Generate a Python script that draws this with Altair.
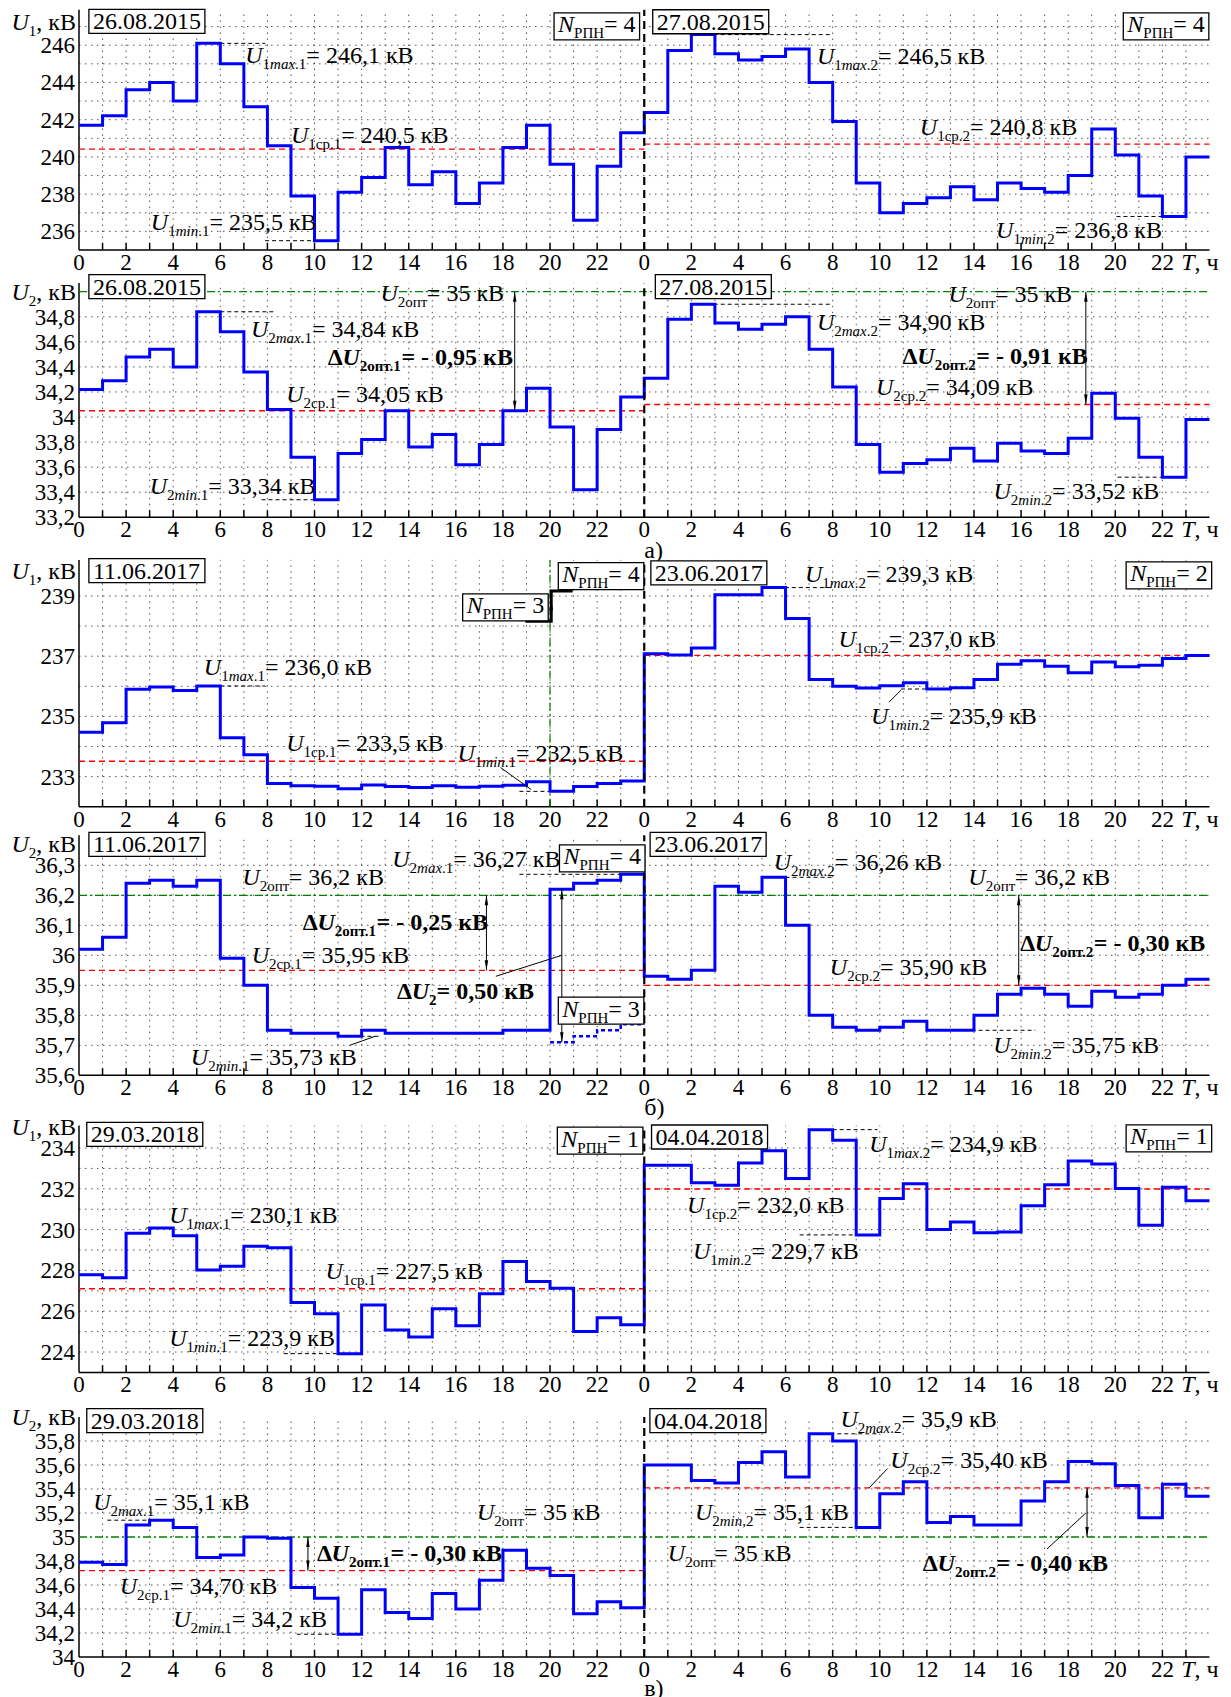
import altair as alt
import pandas as pd

FONT = "Liberation Serif"

# ====================== DATA ======================
# hourly step values: value i holds from hour i to hour i+1
U1_2015_D1 = [241.70, 242.21, 243.61, 244.00, 243.00, 246.10, 245.00, 242.70,
              240.60, 237.90, 235.50, 238.10, 238.90, 240.50, 238.50, 239.20,
              237.50, 238.60, 240.50, 241.70, 239.60, 236.60, 239.50, 241.30]
U1_2015_D2 = [242.39, 245.72, 246.57, 245.54, 245.20, 245.40, 245.80, 244.00,
              241.90, 238.60, 237.00, 237.50, 237.80, 238.40, 237.70, 238.60,
              238.30, 238.10, 239.00, 241.50, 240.10, 237.90, 236.80, 240.00]
U1_2015_MEAN = [240.42, 240.69]

U2_2015_D1 = [34.22, 34.29, 34.48, 34.54, 34.40, 34.84, 34.68, 34.36,
              34.06, 33.68, 33.34, 33.71, 33.82, 34.05, 33.76, 33.86,
              33.62, 33.78, 34.05, 34.23, 33.92, 33.42, 33.90, 34.16]
U2_2015_D2 = [34.31, 34.78, 34.90, 34.75, 34.70, 34.74, 34.80, 34.54,
              34.24, 33.78, 33.56, 33.63, 33.66, 33.75, 33.65, 33.79,
              33.73, 33.71, 33.83, 34.19, 33.99, 33.68, 33.52, 33.98]
U2_2015_MEAN = [34.05, 34.10]
U2_2015_OPT = 35.0

U1_2017_D1 = [234.47, 234.79, 235.90, 235.98, 235.86, 236.01, 234.29, 233.73,
              232.77, 232.70, 232.68, 232.60, 232.72, 232.67, 232.64, 232.70,
              232.65, 232.68, 232.71, 232.83, 232.51, 232.67, 232.77, 232.85]
U1_2017_D2 = [237.08, 237.04, 237.27, 239.04, 239.04, 239.28, 238.25, 236.23,
              236.00, 235.94, 236.02, 236.12, 235.91, 235.95, 236.23, 236.73,
              236.85, 236.67, 236.45, 236.81, 236.65, 236.70, 236.92, 237.02]
U1_2017_MEAN = [233.51, 237.03]

U2_2017_D1 = [36.02, 36.06, 36.24, 36.25, 36.23, 36.25, 35.99, 35.90,
              35.75, 35.74, 35.74, 35.73, 35.75, 35.74, 35.74, 35.74,
              35.74, 35.74, 35.75, 35.75, 36.22, 36.24, 36.25, 36.27]
U2_2017_D1_N3_HOURS = [20, 21, 22, 23]
U2_2017_D1_N3 = [35.71, 35.73, 35.75, 35.77]
U2_2017_D2 = [35.93, 35.92, 35.95, 36.23, 36.21, 36.26, 36.10, 35.80,
              35.76, 35.75, 35.76, 35.78, 35.75, 35.75, 35.80, 35.87,
              35.89, 35.87, 35.83, 35.88, 35.86, 35.87, 35.90, 35.92]
U2_2017_MEAN = [35.95, 35.90]
U2_2017_OPT = 36.2

U1_2018_D1 = [227.79, 227.64, 229.82, 230.08, 229.70, 228.02, 228.20, 229.18,
              229.11, 226.43, 225.88, 223.92, 226.30, 225.08, 224.74, 226.12,
              225.29, 226.86, 228.44, 227.46, 227.12, 225.01, 225.68, 225.34]
U1_2018_D2 = [233.15, 233.15, 232.30, 232.17, 233.26, 233.87, 232.50, 234.90,
              234.38, 229.74, 231.53, 232.25, 230.01, 230.37, 229.85, 229.88,
              231.17, 232.20, 233.36, 233.22, 232.01, 230.21, 232.07, 231.42]
U1_2018_MEAN = [227.10, 231.99]

U2_2018_D1 = [34.79, 34.77, 35.10, 35.14, 35.08, 34.83, 34.85, 35.00,
              34.99, 34.58, 34.49, 34.19, 34.56, 34.37, 34.32, 34.53,
              34.40, 34.64, 34.89, 34.74, 34.68, 34.36, 34.46, 34.41]
U2_2018_D2 = [35.60, 35.60, 35.47, 35.45, 35.62, 35.71, 35.50, 35.86,
              35.80, 35.08, 35.36, 35.46, 35.12, 35.17, 35.10, 35.10,
              35.30, 35.46, 35.63, 35.61, 35.43, 35.16, 35.44, 35.34]
U2_2018_MEAN = [34.72, 35.41]
U2_2018_OPT = 35.0

# ticks / grid
X_LABEL_HOURS = list(range(0, 48, 2))
GRID_HOURS = [h for h in range(1, 48) if h != 24]
TICK_HOURS = list(range(1, 48))

TICKS_R1 = [236, 238, 240, 242, 244, 246]
TICKS_R2 = [33.2, 33.4, 33.6, 33.8, 34.0, 34.2, 34.4, 34.6, 34.8]
TICKS_R3 = [233, 235, 237, 239]
TICKS_R4 = [35.6, 35.7, 35.8, 35.9, 36.0, 36.1, 36.2, 36.3]
TICKS_R5 = [224, 226, 228, 230, 232, 234]
TICKS_R6 = [34.0, 34.2, 34.4, 34.6, 34.8, 35.0, 35.2, 35.4, 35.6, 35.8]
GRID_R1 = [236, 237, 238, 239, 240, 241, 242, 243, 244, 245, 246, 247]
GRID_R2 = [33.4, 33.6, 33.8, 34.0, 34.2, 34.4, 34.6, 34.8]
GRID_R3 = [233, 234, 235, 236, 237, 238, 239]
GRID_R4 = [35.7, 35.8, 35.9, 36.0, 36.1, 36.2, 36.3]
GRID_R5 = [224, 225, 226, 227, 228, 229, 230, 231, 232, 233, 234]
GRID_R6 = [34.2, 34.4, 34.6, 34.8, 35.2, 35.4, 35.6, 35.8]


# ---------------- annotation texts ----------------
def m_max(i, k, val):
    return f"i:U|s:{i}|si:max|s:{k}|n:= {val} кВ"


def m_min(i, k, val):
    return f"i:U|s:{i}|si:min|s:{k}|n:= {val} кВ"


def m_avg(i, k, val):
    return f"i:U|s:{i}ср{k}|n:= {val} кВ"


def m_opt(val):
    return f"i:U|s:2опт|n:= {val} кВ"


def m_dopt(k, val):
    return f"b:Δ|bi:U|bs:2опт{k}|b:= - {val} кВ"


def m_n(n):
    return f"i:N|s:РПН|n:= {n}"


R1_LABELS = [(7.06, 245.5, m_max("1", ".1", "246,1")),
             (9.0, 241.2, m_avg("1", ".1", "240,5")),
             (3.05, 236.5, m_min("1", ".1", "235,5")),
             (31.33, 245.4, m_max("1", ".2", "246,5")),
             (35.7, 241.6, m_avg("1", ".2", "240,8")),
             (38.94, 236.1, m_min("1", ".2", "236,8"))]
R1_BOXES = [(0.42, 247.28, "n:26.08.2015"), (20.17, 247.12, m_n(4)),
            (24.36, 247.26, "n:27.08.2015"), (44.34, 247.12, m_n(4))]
R1_MARKERS = [(6.0, 7.9, 246.1), (7.9, 10.0, 235.5), (26.95, 31.97, 246.57), (44.05, 46.1, 236.8)]

R2_LABELS = [(12.8, 34.99, m_opt("35")),
             (7.3, 34.70, m_max("2", ".1", "34,84")),
             (10.56, 34.48, m_dopt(".1", "0,95")),
             (8.8, 34.18, m_avg("2", ".1", "34,05")),
             (3.0, 33.45, m_min("2", ".1", "33,34")),
             (36.92, 34.98, m_opt("35")),
             (31.33, 34.76, m_max("2", ".2", "34,90")),
             (34.97, 34.49, m_dopt(".2", "0,91")),
             (33.84, 34.24, m_avg("2", ".2", "34,09")),
             (38.83, 33.41, m_min("2", ".2", "33,52"))]
R2_BOXES = [(0.42, 35.04, "n:26.08.2015"), (24.47, 35.04, "n:27.08.2015")]
R2_MARKERS = [(6.0, 8.3, 34.84), (7.75, 10.5, 33.34), (26.95, 32.0, 34.90), (44.1, 46.1, 33.52)]
R2_ARROWS = [(18.5, 35.0, 34.05), (42.75, 35.0, 34.10)]

R3_LABELS = [(5.3, 236.64, m_max("1", ".1", "236,0")),
             (8.8, 234.1, m_avg("1", ".1", "233,5")),
             (16.07, 233.8, m_min("1", ".1", "232,5")),
             (30.82, 239.72, m_max("1", ".2", "239,3")),
             (32.25, 237.58, m_avg("1", ".2", "237,0")),
             (33.63, 235.01, m_min("1", ".2", "235,9"))]
R3_BOXES = [(0.42, 239.84, "n:11.06.2017"), (20.35, 239.73, m_n(4)), (16.29, 238.69, m_n(3)),
            (24.28, 239.77, "n:23.06.2017"), (44.46, 239.75, m_n(2))]
R3_MARKERS = [(6.0, 7.9, 236.01), (18.7, 20.0, 232.51), (29.97, 32.0, 239.28), (34.9, 36.3, 235.91)]
R3_LEADERS = [(17.9, 233.3, 19.2, 232.57), (34.4, 235.48, 34.9, 235.87)]
R3_STEP_X = [18.95, 20.05, 20.05, 20.96]
R3_STEP_Y = [238.16, 238.16, 239.17, 239.17]

R4_LABELS = [(6.94, 36.26, m_opt("36,2")),
             (13.3, 36.32, m_max("2", ".1", "36,27")),
             (9.5, 36.11, m_dopt(".1", "0,25")),
             (7.33, 36.0, m_avg("2", ".1", "35,95")),
             (13.5, 35.88, "b:Δ|bi:U|bs:2|b:= 0,50 кВ"),
             (4.75, 35.66, m_min("2", ".1", "35,73")),
             (29.5, 36.31, m_max("2", ".2", "36,26")),
             (37.76, 36.26, m_opt("36,2")),
             (39.96, 36.04, m_dopt(".2", "0,30")),
             (31.88, 35.96, m_avg("2", ".2", "35,90")),
             (38.82, 35.70, m_min("2", ".2", "35,75"))]
R4_BOXES = [(0.42, 36.37, "n:11.06.2017"), (20.4, 36.33, m_n(4)), (20.35, 35.822, m_n(3)),
            (24.25, 36.37, "n:23.06.2017")]
R4_MARKERS = [(18.7, 23.0, 36.27), (11.95, 12.8, 35.73), (30.0, 32.0, 36.26), (37.6, 40.6, 35.75)]
R4_ARROWS = [(17.3, 36.2, 35.95), (20.5, 36.22, 35.71), (39.9, 36.2, 35.9)]
R4_LEADERS = [(17.7, 35.93, 20.5, 36.0), (11.5, 35.70, 12.57, 35.73)]

R5_LABELS = [(3.83, 230.73, m_max("1", ".1", "230,1")),
             (10.47, 227.99, m_avg("1", ".1", "227,5")),
             (3.83, 224.69, m_min("1", ".1", "223,9")),
             (33.55, 234.2, m_max("1", ".2", "234,9")),
             (25.82, 231.22, m_avg("1", ".2", "232,0")),
             (26.07, 228.93, m_min("1", ".2", "229,7"))]
R5_BOXES = [(0.33, 234.67, "n:29.03.2018"), (20.31, 234.46, m_n(1)),
            (24.31, 234.54, "n:04.04.2018"), (44.46, 234.57, m_n(1))]
R5_MARKERS = [(2.83, 4.0, 230.08), (8.7, 11.0, 223.92), (32.0, 33.9, 234.9), (30.6, 33.07, 229.74)]

R6_LABELS = [(0.6, 35.29, m_max("2", ".1", "35,1")),
             (1.73, 34.59, m_avg("2", ".1", "34,70")),
             (4.0, 34.32, m_min("2", ".1", "34,2")),
             (16.9, 35.21, m_opt("35")),
             (10.1, 34.87, m_dopt(".1", "0,30")),
             (32.33, 35.98, m_max("2", ".2", "35,9")),
             (34.45, 35.64, m_avg("2", ".2", "35,40")),
             (26.15, 35.21, m_min("2", ",2", "35,1")),
             (25.0, 34.87, m_opt("35")),
             (35.83, 34.78, m_dopt(".2", "0,40"))]
R6_BOXES = [(0.33, 35.97, "n:29.03.2018"), (24.24, 35.97, "n:04.04.2018")]
R6_MARKERS = [(1.2, 4.0, 35.14), (9.25, 11.0, 34.19), (31.9, 33.9, 35.86), (30.6, 32.98, 35.08)]
R6_ARROWS = [(9.72, 35.0, 34.72), (42.8, 35.41, 35.0)]
R6_LEADERS = [(33.55, 35.41, 34.33, 35.57), (41.1, 34.9, 42.75, 35.2)]

# ====================== LAYOUT / STYLE ======================
PLOT_W = 1130.5
PXH = PLOT_W / 48.0
SPACING = 28
TOP0 = 8.0
AXIS_Y = [250.0, 517.3, 806.0, 1074.3, 1370.7, 1654.7]
F, FS, FT = 24, 15, 23
DY, DYS = 8, 14

REG = {' ': 0.25, ',': 0.25, '.': 0.25, '=': 0.564, '-': 0.333, ')': 0.333, 'U': 0.722,
       'T': 0.611, 'N': 0.722, 'Δ': 0.612, 'к': 0.49, 'В': 0.667, 'ч': 0.5, 'с': 0.444,
       'р': 0.5, 'о': 0.5, 'п': 0.5, 'т': 0.437, 'Р': 0.556, 'П': 0.722, 'Н': 0.722,
       'а': 0.444, 'б': 0.5, 'в': 0.47, 'm': 0.778, 'a': 0.444, 'x': 0.5, 'i': 0.278, 'n': 0.5}
ITA = {' ': 0.25, ',': 0.25, '.': 0.25, 'U': 0.722, 'T': 0.556, 'N': 0.667, 'm': 0.722,
       'a': 0.5, 'x': 0.444, 'i': 0.278, 'n': 0.5}
BOLD = {' ': 0.25, ',': 0.25, '.': 0.25, '=': 0.57, '-': 0.333, 'Δ': 0.612, 'к': 0.55,
        'В': 0.667, 'о': 0.5, 'п': 0.55, 'т': 0.48, 'U': 0.722}
BI = {'U': 0.722}
STY = {
    'n': (REG, F, 'normal', 'normal', DY),
    'i': (ITA, F, 'italic', 'normal', DY),
    'b': (BOLD, F, 'normal', 'bold', DY),
    'bi': (BI, F, 'italic', 'bold', DY),
    's': (REG, FS, 'normal', 'normal', DYS),
    'si': (ITA, FS, 'italic', 'normal', DYS),
    'bs': (BOLD, FS, 'normal', 'bold', DYS),
}
UP = "M0,-1L-0.35,1L0.35,1Z"
DOWN = "M0,1L-0.35,-1L0.35,-1Z"


def parse(markup):
    out = []
    for part in markup.split("|"):
        st, txt = part.split(":", 1)
        out.append((st, txt))
    return out


def seg_w(st, txt):
    table, size = STY[st][0], STY[st][1]
    return sum(table.get(c, 0.5) for c in txt) * size


def num_label(v):
    return f"{v:g}".replace(".", ",")


ROWS = [
    dict(d1=U1_2015_D1, d2=U1_2015_D2, mean=U1_2015_MEAN, opt=None, ymin=235.0, pxu=18.617,
         top=247.9, ticks=TICKS_R1, grid=GRID_R1, yl=("1", 247.25), labels=R1_LABELS,
         boxes=R1_BOXES, markers=R1_MARKERS, arrows=[], leaders=[], tag=None),
    dict(d1=U2_2015_D1, d2=U2_2015_D2, mean=U2_2015_MEAN, opt=U2_2015_OPT, ymin=33.2, pxu=125.33,
         top=35.07, ticks=TICKS_R2, grid=GRID_R2, yl=("2", 35.0), labels=R2_LABELS,
         boxes=R2_BOXES, markers=R2_MARKERS, arrows=R2_ARROWS, leaders=[], tag=("а)", 33)),
    dict(d1=U1_2017_D1, d2=U1_2017_D2, mean=U1_2017_MEAN, opt=None, ymin=232.0, pxu=30.1,
         top=240.2, ticks=TICKS_R3, grid=GRID_R3, yl=("1", 239.83), labels=R3_LABELS,
         boxes=R3_BOXES, markers=R3_MARKERS, arrows=[], leaders=R3_LEADERS, tag=None,
         step=(R3_STEP_X, R3_STEP_Y), vgreen=20.0),
    dict(d1=U2_2017_D1, d2=U2_2017_D2, mean=U2_2017_MEAN, opt=U2_2017_OPT, ymin=35.6, pxu=300.0,
         top=36.4, ticks=TICKS_R4, grid=GRID_R4, yl=("2", 36.37), labels=R4_LABELS,
         boxes=R4_BOXES, markers=R4_MARKERS, arrows=R4_ARROWS, leaders=R4_LEADERS, tag=("б)", 32),
         alt_line=(U2_2017_D1_N3_HOURS, U2_2017_D1_N3)),
    dict(d1=U1_2018_D1, d2=U1_2018_D2, mean=U1_2018_MEAN, opt=None, ymin=223.0, pxu=20.4,
         top=235.1, ticks=TICKS_R5, grid=GRID_R5, yl=("1", 235.05), labels=R5_LABELS,
         boxes=R5_BOXES, markers=R5_MARKERS, arrows=[], leaders=[], tag=None),
    dict(d1=U2_2018_D1, d2=U2_2018_D2, mean=U2_2018_MEAN, opt=U2_2018_OPT, ymin=34.0, pxu=120.0,
         top=36.0, ticks=TICKS_R6, grid=GRID_R6, yl=("2", 36.0), labels=R6_LABELS,
         boxes=R6_BOXES, markers=R6_MARKERS, arrows=R6_ARROWS, leaders=R6_LEADERS, tag=("в)", 31)),
]


def build_row(idx, cfg):
    top_px = TOP0 if idx == 0 else AXIS_Y[idx - 1] + SPACING
    H = AXIS_Y[idx] - top_px
    ymin, pxu, ytop = cfg["ymin"], cfg["pxu"], cfg["top"]
    ymax = ymin + H / pxu
    xs = alt.Scale(domain=[0, 48], nice=False, zero=False)
    ys = alt.Scale(domain=[ymin, ymax], nice=False, zero=False)

    def X(f):
        return alt.X(f, type="quantitative", scale=xs, axis=None)

    def Y(f):
        return alt.Y(f, type="quantitative", scale=ys, axis=None)

    L = []
    grid_style = dict(color="#555555", strokeWidth=1, strokeDash=[1.5, 4.5])
    vg = pd.DataFrame({"x": GRID_HOURS})
    vg["y"] = ymin
    vg["y2"] = ytop
    L.append(alt.Chart(vg).mark_rule(**grid_style).encode(x=X("x"), y=Y("y"), y2="y2"))
    hg = pd.DataFrame({"y": cfg["grid"]})
    hg["x"] = 0
    hg["x2"] = 48
    L.append(alt.Chart(hg).mark_rule(**grid_style).encode(y=Y("y"), x=X("x"), x2="x2"))
    tk = pd.DataFrame({"x": TICK_HOURS})
    tk["y"] = ymin
    tk["y2"] = ymin + 7.0 / pxu
    L.append(alt.Chart(tk).mark_rule(color="black", strokeWidth=1.5).encode(x=X("x"), y=Y("y"), y2="y2"))
    ya = pd.DataFrame({"x": [0], "y": [ymin], "y2": [ytop]})
    L.append(alt.Chart(ya).mark_rule(color="black", strokeWidth=1.5).encode(x=X("x"), y=Y("y"), y2="y2"))
    xa = pd.DataFrame({"x": [0], "x2": [48], "y": [ymin]})
    L.append(alt.Chart(xa).mark_rule(color="black", strokeWidth=1.5).encode(x=X("x"), x2="x2", y=Y("y")))

    if cfg.get("vgreen") is not None:
        vgr = pd.DataFrame({"x": [cfg["vgreen"]], "y": [ymin], "y2": [ytop]})
        L.append(alt.Chart(vgr).mark_rule(color="#008000", strokeWidth=1.2, strokeDash=[8, 3, 2, 3])
                 .encode(x=X("x"), y=Y("y"), y2="y2"))

    mn = pd.DataFrame({"x": [0, 24], "x2": [24, 48], "y": cfg["mean"]})
    L.append(alt.Chart(mn).mark_rule(color="#ff0000", strokeWidth=1.3, strokeDash=[6, 4])
             .encode(x=X("x"), x2="x2", y=Y("y")))
    if cfg.get("opt") is not None:
        op = pd.DataFrame({"x": [0], "x2": [48], "y": [cfg["opt"]]})
        L.append(alt.Chart(op).mark_rule(color="#008000", strokeWidth=1.3, strokeDash=[8, 3, 2, 3])
                 .encode(x=X("x"), x2="x2", y=Y("y")))
    mk = pd.DataFrame(cfg["markers"], columns=["x", "x2", "y"])
    L.append(alt.Chart(mk).mark_rule(color="black", strokeWidth=1, strokeDash=[4, 3])
             .encode(x=X("x"), x2="x2", y=Y("y")))

    vals = list(cfg["d1"]) + list(cfg["d2"])
    ld = pd.DataFrame({"t": list(range(49)), "v": vals + [vals[-1]]})
    L.append(alt.Chart(ld).mark_line(interpolate="step-after", color="#0000ff", strokeWidth=3)
             .encode(x=X("t"), y=Y("v")))

    if cfg.get("alt_line") is not None:
        hrs, av = cfg["alt_line"]
        ad = pd.DataFrame({"t": list(hrs) + [hrs[-1] + 1], "v": list(av) + [av[-1]]})
        L.append(alt.Chart(ad).mark_line(interpolate="step-after", color="#0000ff", strokeWidth=2.5,
                                         strokeDash=[4, 3])
                 .encode(x=X("t"), y=Y("v")))

    d24 = pd.DataFrame({"x": [24], "y": [ymin], "y2": [ytop]})
    L.append(alt.Chart(d24).mark_rule(color="black", strokeWidth=2.2, strokeDash=[8, 5])
             .encode(x=X("x"), y=Y("y"), y2="y2"))

    if cfg.get("step") is not None:
        sx, sy = cfg["step"]
        sd = pd.DataFrame({"x": sx, "y": sy, "o": list(range(len(sx)))})
        L.append(alt.Chart(sd).mark_line(color="black", strokeWidth=3)
                 .encode(x=X("x"), y=Y("y"), order=alt.Order("o:Q")))
        hd = pd.DataFrame({"x": [sx[1]], "y": [238.86 - 5.0 / pxu]})
        L.append(alt.Chart(hd).mark_point(shape=UP, filled=True, size=110, color="black", opacity=1)
                 .encode(x=X("x"), y=Y("y")))

    if cfg["leaders"]:
        le = pd.DataFrame(cfg["leaders"], columns=["x", "y", "x2", "y2"])
        L.append(alt.Chart(le).mark_rule(color="black", strokeWidth=1)
                 .encode(x=X("x"), y=Y("y"), x2="x2", y2="y2"))
    if cfg["arrows"]:
        ar = pd.DataFrame(cfg["arrows"], columns=["x", "y", "y2"])
        L.append(alt.Chart(ar).mark_rule(color="black", strokeWidth=1)
                 .encode(x=X("x"), y=Y("y"), y2="y2"))
        up = pd.DataFrame({"x": ar["x"], "y": ar["y"] - 5.0 / pxu})
        dn = pd.DataFrame({"x": ar["x"], "y": ar["y2"] + 5.0 / pxu})
        L.append(alt.Chart(up).mark_point(shape=UP, filled=True, size=100, color="black", opacity=1)
                 .encode(x=X("x"), y=Y("y")))
        L.append(alt.Chart(dn).mark_point(shape=DOWN, filled=True, size=100, color="black", opacity=1)
                 .encode(x=X("x"), y=Y("y")))

    # tick labels
    xl = pd.DataFrame({"x": X_LABEL_HOURS, "t": [str(h % 24) for h in X_LABEL_HOURS]})
    xl["y"] = ymin - 12.0 / pxu
    L.append(alt.Chart(xl).mark_text(align="center", baseline="alphabetic", font=FONT, fontSize=FT,
                                     dy=8, color="black")
             .encode(x=X("x"), y=Y("y"), text=alt.Text("t:N")))
    ylab = pd.DataFrame({"y": cfg["ticks"], "t": [num_label(v) for v in cfg["ticks"]]})
    ylab["x"] = -4.0 / PXH
    L.append(alt.Chart(ylab).mark_text(align="right", baseline="alphabetic", font=FONT, fontSize=FT,
                                       dy=8, color="black")
             .encode(x=X("x"), y=Y("y"), text=alt.Text("t:N")))

    # boxes
    items = []
    rects = []
    pad = 4.0
    for xl0, yc, markup in cfg["boxes"]:
        segs = parse(markup)
        total = sum(seg_w(st, t) for st, t in segs)
        is_n = markup.startswith("i:N")
        bh = 27.0 if is_n else 24.0
        cy = yc - (2.0 / pxu if is_n else 0.0)
        rects.append({"x": xl0, "x2": xl0 + (total + 2 * pad) / PXH,
                      "y": cy - bh / 2 / pxu, "y2": cy + bh / 2 / pxu})
        items.append((xl0 + pad / PXH, yc, markup, "left"))
    if rects:
        rd = pd.DataFrame(rects)
        L.append(alt.Chart(rd).mark_rect(fill="white", stroke="black", strokeWidth=1.3)
                 .encode(x=X("x"), x2="x2", y=Y("y"), y2="y2"))

    for x, yc, markup in cfg["labels"]:
        items.append((x, yc, markup, "left"))
    idx_s, yl = cfg["yl"]
    items.append((-67.5 / PXH, yl, f"i:U|s:{idx_s}|n:, кВ", "left"))
    items.append((48 + 9.0 / PXH, ymin - 12.0 / pxu, "i:T|n:, ч", "right"))
    if cfg.get("tag") is not None:
        tg, off = cfg["tag"]
        items.append((24.0, ymin - off / pxu, "n:" + tg, "left"))

    recs = {k: [] for k in STY}
    for x, yc, markup, align in items:
        segs = parse(markup)
        total = sum(seg_w(st, t) for st, t in segs)
        cur = -total if align == "right" else 0.0
        for st, t in segs:
            recs[st].append({"x": x + cur / PXH, "y": yc, "t": t})
            cur += seg_w(st, t)
    for st, rows in recs.items():
        if not rows:
            continue
        _, size, fstyle, fweight, dy = STY[st]
        td = pd.DataFrame(rows)
        L.append(alt.Chart(td).mark_text(align="left", baseline="alphabetic", font=FONT,
                                         fontSize=size, fontStyle=fstyle, fontWeight=fweight,
                                         dy=dy, color="black")
                 .encode(x=X("x"), y=Y("y"), text=alt.Text("t:N")))

    return alt.layer(*L).properties(width=PLOT_W, height=H)


charts = [build_row(i, c) for i, c in enumerate(ROWS)]
chart = alt.vconcat(*charts, spacing=SPACING, bounds="flush").properties(
    padding={"left": 3, "top": 0, "right": 2, "bottom": 0}
).configure_view(strokeWidth=0)

chart.save("out.html", embed_options={"renderer": "svg", "actions": False})
